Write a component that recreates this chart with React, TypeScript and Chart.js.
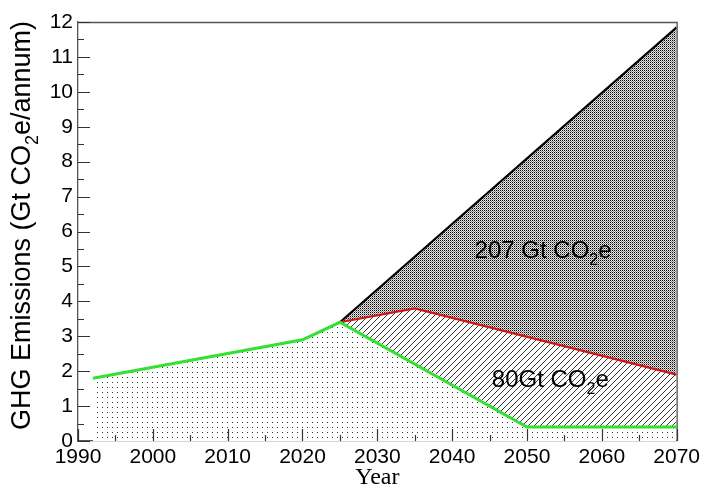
import React, { useEffect, useRef } from "react";
import { Chart, registerables } from "chart.js";

Chart.register(...registerables);

const greenYears = [1992, 2020, 2025, 2050, 2070];
const greenValues = [1.8, 2.9, 3.4, 0.4, 0.4];
const redYears = [2025, 2035, 2070];
const redValues = [3.4, 3.8, 1.9];
const blackYears = [2025, 2070];
const blackValues = [3.4, 11.85];

const xMin = 1990;
const xMax = 2070;
const yMin = 0;
const yMax = 12;

const yTitleParts = ["GHG Emissions (Gt CO", "2", "e/annum)"];
const label207 = ["207 Gt CO", "2", "e"];
const label80 = ["80Gt CO", "2", "e"];
const label207At = { x: 2043, y: 5.25 };
const label80At = { x: 2045.3, y: 1.55 };
const xTitle = "Year";

function makePattern(kind: string): CanvasPattern | string {
  const c = document.createElement("canvas");
  const g = c.getContext("2d");
  if (!g) return "#ccc";
  if (kind === "dots") {
    c.width = 5;
    c.height = 5;
    g.fillStyle = "#ffffff";
    g.fillRect(0, 0, 5, 5);
    g.fillStyle = "#333333";
    g.fillRect(2, 2, 1, 1);
  } else if (kind === "hatch") {
    c.width = 6;
    c.height = 6;
    g.fillStyle = "#ffffff";
    g.fillRect(0, 0, 6, 6);
    g.strokeStyle = "#222222";
    g.lineWidth = 0.9;
    g.beginPath();
    g.moveTo(-1, 7);
    g.lineTo(7, -1);
    g.moveTo(-1, 1);
    g.lineTo(1, -1);
    g.moveTo(5, 7);
    g.lineTo(7, 5);
    g.stroke();
  } else {
    c.width = 2;
    c.height = 2;
    g.fillStyle = "#e4e4e4";
    g.fillRect(0, 0, 2, 2);
    g.fillStyle = "#000000";
    g.fillRect(0, 0, 1, 1);
    g.fillStyle = "#8a8a8a";
    g.fillRect(1, 1, 1, 1);
  }
  return g.createPattern(c, "repeat") || "#ccc";
}

function drawSubText(ctx: CanvasRenderingContext2D, parts: string[], x: number, y: number, size: number, align: string) {
  const big = `${size}px "Liberation Sans", Arial, sans-serif`;
  const small = `${Math.round(size * 0.68)}px "Liberation Sans", Arial, sans-serif`;
  ctx.font = big;
  const w0 = ctx.measureText(parts[0]).width;
  const w2 = ctx.measureText(parts[2]).width;
  ctx.font = small;
  const w1 = ctx.measureText(parts[1]).width;
  const total = w0 + w1 + w2;
  let sx = x;
  if (align === "center") sx = x - total / 2;
  ctx.textBaseline = "alphabetic";
  ctx.textAlign = "left";
  ctx.font = big;
  ctx.fillText(parts[0], sx, y);
  ctx.font = small;
  ctx.fillText(parts[1], sx + w0, y + size * 0.3);
  ctx.font = big;
  ctx.fillText(parts[2], sx + w0 + w1, y);
}

const decorPlugin = {
  id: "decor",
  afterDraw(chart: any) {
    const ctx = chart.ctx as CanvasRenderingContext2D;
    const xs = chart.scales.x;
    const ys = chart.scales.y;
    const a = chart.chartArea;
    ctx.save();
    ctx.strokeStyle = "#555555";
    ctx.lineWidth = 1.3;
    ctx.beginPath();
    ctx.moveTo(a.left, a.top + 0.5);
    ctx.lineTo(a.right + 0.5, a.top + 0.5);
    ctx.lineTo(a.right + 0.5, a.bottom);
    ctx.stroke();
    ctx.strokeStyle = "#333333";
    ctx.lineWidth = 1.2;
    ctx.beginPath();
    for (let v = xMin; v <= xMax; v += 5) {
      const px = Math.round(xs.getPixelForValue(v)) + 0.5;
      const len = v % 10 === 0 ? 12 : 6;
      ctx.moveTo(px, a.bottom);
      ctx.lineTo(px, a.bottom - len);
    }
    for (let v = yMin; v <= yMax; v += 0.5) {
      const py = Math.round(ys.getPixelForValue(v)) + 0.5;
      const len = Number.isInteger(v) ? 12 : 6;
      ctx.moveTo(a.left, py);
      ctx.lineTo(a.left + len, py);
    }
    ctx.stroke();

    ctx.fillStyle = "#000000";
    ctx.save();
    ctx.translate(30, (a.top + a.bottom) / 2 - 6);
    ctx.rotate(-Math.PI / 2);
    drawSubText(ctx, yTitleParts, 0, 0, 27, "center");
    ctx.restore();

    ctx.font = `24px "Liberation Serif", "Times New Roman", serif`;
    ctx.textAlign = "center";
    ctx.textBaseline = "alphabetic";
    ctx.fillText(xTitle, (a.left + a.right) / 2, 484);

    drawSubText(ctx, label207, xs.getPixelForValue(label207At.x), ys.getPixelForValue(label207At.y), 24, "left");
    drawSubText(ctx, label80, xs.getPixelForValue(label80At.x), ys.getPixelForValue(label80At.y), 24, "left");
    ctx.restore();
  },
};

export default function App() {
  const ref = useRef<HTMLCanvasElement | null>(null);
  useEffect(() => {
    if (!ref.current) return;
    const toPts = (xsA: number[], ysA: number[]) => xsA.map((x, i) => ({ x, y: ysA[i] }));
    const chart = new Chart(ref.current, {
      type: "line",
      data: {
        datasets: [
          {
            data: toPts(greenYears, greenValues),
            borderColor: "#33e033",
            borderWidth: 3,
            pointRadius: 0,
            fill: "origin",
            backgroundColor: makePattern("dots") as any,
            tension: 0,
          },
          {
            data: toPts(redYears, redValues),
            borderColor: "#d01515",
            borderWidth: 2.2,
            pointRadius: 0,
            fill: "-1",
            backgroundColor: makePattern("hatch") as any,
            tension: 0,
          },
          {
            data: toPts(blackYears, blackValues),
            borderColor: "#000000",
            borderWidth: 2.2,
            pointRadius: 0,
            fill: "-1",
            backgroundColor: makePattern("gray") as any,
            tension: 0,
          },
        ],
      },
      options: {
        animation: false,
        responsive: false,
        maintainAspectRatio: false,
        layout: { padding: { left: 0, top: 22, right: 24, bottom: 0 } },
        plugins: { legend: { display: false }, tooltip: { enabled: false } },
        scales: {
          x: {
            type: "linear",
            min: xMin,
            max: xMax,
            grid: { display: false, drawTicks: false },
            border: { display: true, color: "#555555", width: 1.3 },
            ticks: {
              stepSize: 10,
              autoSkip: false,
              maxRotation: 0,
              padding: 4,
              color: "#000000",
              font: { family: '"Liberation Sans", Arial, sans-serif', size: 21 },
              callback: (v: any) => String(v),
            },
            afterFit: (s: any) => {
              s.height = 47;
            },
          },
          y: {
            min: yMin,
            max: yMax,
            grid: { display: false, drawTicks: false },
            border: { display: true, color: "#555555", width: 1.3 },
            ticks: {
              stepSize: 1,
              autoSkip: false,
              padding: 5,
              color: "#000000",
              font: { family: '"Liberation Sans", Arial, sans-serif', size: 21 },
              callback: (v: any) => String(v),
            },
            afterFit: (s: any) => {
              s.width = 78;
            },
          },
        },
      },
      plugins: [decorPlugin],
    });
    return () => chart.destroy();
  }, []);
  return (
    <div style={{ position: "fixed", left: 0, top: 0, width: 704, height: 488, background: "#fff" }}>
      <canvas ref={ref} width={704} height={488} style={{ width: 704, height: 488, display: "block" }} />
    </div>
  );
}
